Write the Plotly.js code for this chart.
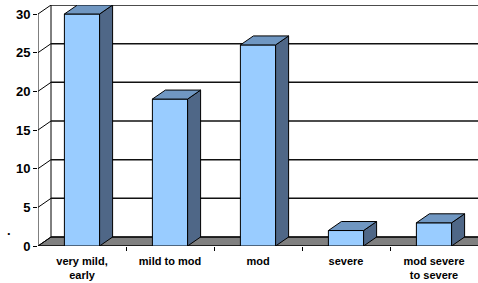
<!DOCTYPE html>
<html>
<head>
<meta charset="utf-8">
<script src="https://cdn.plot.ly/plotly-3.0.1.min.js"></script>
<style>html,body{margin:0;padding:0;background:#fff;}#chart{width:478px;height:283px;}</style>
</head>
<body>
<div id="chart"></div>
<script>
const categories = ["very mild,<br>early", "mild to mod", "mod", "severe", "mod severe<br>to severe"];
const values = [30, 19, 26, 2, 3];
const yTicks = [0, 5, 10, 15, 20, 25, 30];

// 3D depth offsets (in axis units) and bar width
const dx = 0.1477, dy = 1.164, w = 0.4;
const xs = categories.map((c, i) => i);
const xMin = -0.5, xMax = categories.length - 0.5, yMax = yTicks[yTicks.length - 1];

const sideX = [], sideY = [], topX = [], topY = [];
values.forEach((v, i) => {
  const xr = i + w / 2, xl = i - w / 2;
  sideX.push(xr, xr + dx, xr + dx, xr, xr, null);
  sideY.push(0, dy, v + dy, v, 0, null);
  topX.push(xl, xl + dx, xr + dx, xr, xl, null);
  topY.push(v, v + dy, v + dy, v, v, null);
});

const traces = [
  {type: 'bar', x: xs, y: values, width: w, marker: {color: '#99CCFF', line: {color: '#000', width: 1}}, hoverinfo: 'skip'},
  {type: 'scatter', mode: 'lines', x: sideX, y: sideY, fill: 'toself', fillcolor: '#4F6787', line: {color: '#000', width: 1}, hoverinfo: 'skip'},
  {type: 'scatter', mode: 'lines', x: topX, y: topY, fill: 'toself', fillcolor: '#7097C2', line: {color: '#000', width: 1}, hoverinfo: 'skip'},
  {type: 'scatter', mode: 'markers', x: xs, y: values, xaxis: 'x2', marker: {opacity: 0}, hoverinfo: 'skip'}
];

const shapes = [];
// floor
shapes.push({type: 'path', xref: 'x', yref: 'y', layer: 'below',
  path: `M ${xMin},0 L ${xMin + dx},${dy} L ${xMax + 2},${dy} L ${xMax + 2},0 Z`,
  fillcolor: '#808080', line: {color: '#000', width: 1}});
// back wall left edge
shapes.push({type: 'line', xref: 'x', yref: 'y', layer: 'below', x0: xMin + dx, y0: dy, x1: xMin + dx, y1: yMax + dy, line: {color: '#000', width: 1}});
yTicks.forEach(t => {
  shapes.push({type: 'line', xref: 'x', yref: 'y', layer: 'below', x0: xMin, y0: t, x1: xMin + dx, y1: t + dy, line: {color: '#000', width: 1}});
  shapes.push({type: 'line', xref: 'x', yref: 'y', layer: 'below', x0: xMin + dx, y0: t + dy, x1: xMax + 2, y1: t + dy, line: {color: '#111', width: 1.5}});
});
// front axis line and floor front edge
shapes.push({type: 'line', xref: 'x', yref: 'y', layer: 'below', x0: xMin, y0: 0, x1: xMin, y1: yMax, line: {color: '#000', width: 1}});
shapes.push({type: 'line', xref: 'x', yref: 'y', layer: 'below', x0: xMin, y0: 0, x1: xMax + 2, y1: 0, line: {color: '#000', width: 1}});

const font = {family: 'Liberation Sans, Arial, sans-serif', color: '#000'};

const layout = {
  width: 478, height: 283,
  margin: {l: 38, r: 0, t: 5, b: 37},
  paper_bgcolor: '#fff', plot_bgcolor: '#fff',
  showlegend: false,
  xaxis: {range: [xMin, xMax], tickvals: xs.slice(1).map(i => i - 0.5), ticks: 'outside', ticklen: 4, tickcolor: '#000',
          showticklabels: false, showgrid: false, zeroline: false, showline: false, fixedrange: true},
  xaxis2: {overlaying: 'x', anchor: 'y', side: 'bottom', range: [xMin, xMax], tickvals: xs, ticktext: categories,
           ticks: '', showgrid: false, zeroline: false, showline: false, ticklabelstandoff: 7,
           tickfont: Object.assign({size: 11, weight: 'bold'}, font)},
  yaxis: {range: [0, yMax + dy], tickvals: yTicks, ticks: 'outside', ticklen: 4, tickcolor: '#000',
          showgrid: false, zeroline: false, showline: false,
          tickfont: Object.assign({size: 13, weight: 'bold'}, font)},
  shapes: shapes,
  annotations: [{text: '.', xref: 'paper', yref: 'paper', x: -0.075, y: 0.024, showarrow: false,
                 font: Object.assign({size: 13, weight: 'bold'}, font)}]
};

Plotly.newPlot('chart', traces, layout, {displayModeBar: false, staticPlot: true});
</script>
</body>
</html>
